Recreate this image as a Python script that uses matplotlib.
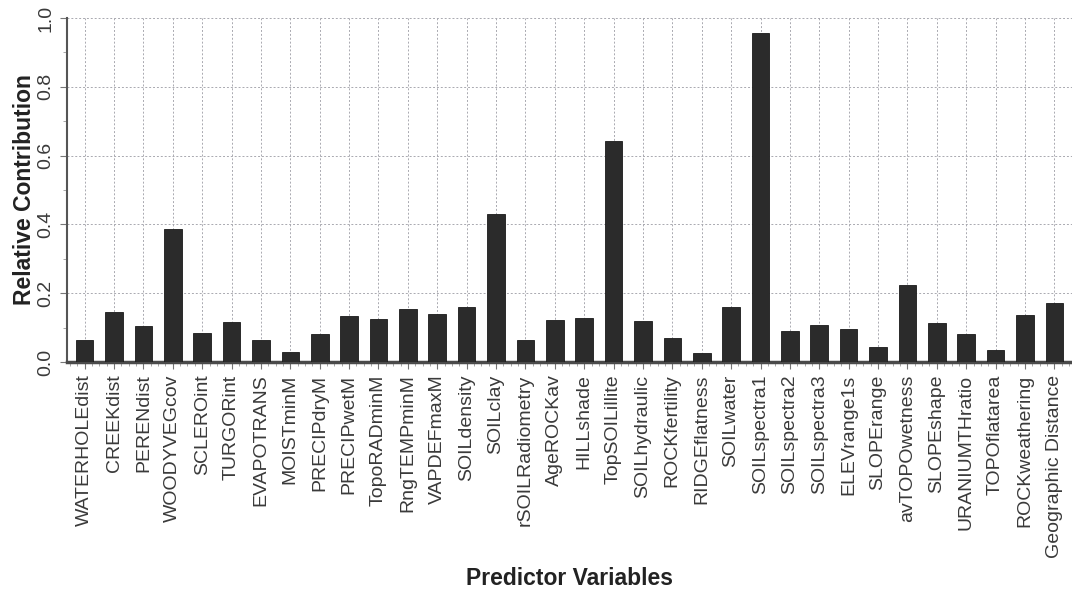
import matplotlib
matplotlib.use("Agg")
import matplotlib.pyplot as plt
import numpy as np
from matplotlib.ticker import MultipleLocator

# predictor names and their relative contribution
predictors = ["WATERHOLEdist", "CREEKdist", "PERENdist", "WOODYVEGcov", "SCLEROint",
              "TURGORint", "EVAPOTRANS", "MOISTminM", "PRECIPdryM", "PRECIPwetM",
              "TopoRADminM", "RngTEMPminM", "VAPDEFmaxM", "SOILdensity", "SOILclay",
              "rSOILRadiometry", "AgeROCKav", "HILLshade", "TopSOILillite", "SOILhydraulic",
              "ROCKfertility", "RIDGEflatness", "SOILwater", "SOILspectra1", "SOILspectra2",
              "SOILspectra3", "ELEVrange1s", "SLOPErange", "avTOPOwetness", "SLOPEshape",
              "URANIUMTHratio", "TOPOflatarea", "ROCKweathering", "Geographic Distance"]
contribution = [0.065, 0.144, 0.104, 0.386, 0.083,
                0.115, 0.065, 0.030, 0.080, 0.133,
                0.125, 0.153, 0.140, 0.160, 0.431,
                0.065, 0.121, 0.129, 0.643, 0.118,
                0.069, 0.027, 0.160, 0.957, 0.089,
                0.108, 0.097, 0.044, 0.224, 0.112,
                0.080, 0.034, 0.136, 0.171]
y_ticks = [0.0, 0.2, 0.4, 0.6, 0.8, 1.0]

plt.rcParams['font.family'] = ['Liberation Sans', 'DejaVu Sans']

fig = plt.figure(figsize=(10.72, 5.92), dpi=100)
ax = fig.add_axes([67 / 1072, 0.3885, 1 - 67 / 1072, 0.5811])

x = np.arange(len(predictors))
ax.bar(x, contribution, width=0.6, color="#2b2b2b", edgecolor="#1a1a1a",
       linewidth=0.6, zorder=3)

ax.set_xlim(-0.6, len(predictors) - 0.4)
ax.set_ylim(0, 1.0)

ax.set_xticks(x)
ax.set_xticklabels(predictors, rotation=90, fontsize=14, color="#3a3a3a")
ax.set_yticks(y_ticks)
ax.set_yticklabels(["%.1f" % v for v in y_ticks], rotation=90, va="center",
                   fontsize=14, color="#3a3a3a")
ax.yaxis.set_minor_locator(MultipleLocator(0.1))
ax.xaxis.set_minor_locator(MultipleLocator(0.25))

ax.tick_params(axis="both", which="major", length=5, width=0.8, color="#777777", pad=4)
ax.tick_params(axis="both", which="minor", length=3, width=0.6, color="#999999")

ax.grid(False, which="minor")
ax.grid(True, which="major", linestyle=(0, (2, 2)), linewidth=0.7, color="#a9a9b0", zorder=0)

for side in ["top", "right"]:
    ax.spines[side].set_visible(False)
ax.spines["left"].set_color("#555555")
ax.spines["left"].set_linewidth(1.5)
ax.spines["bottom"].set_color("#4a4a4a")
ax.spines["bottom"].set_linewidth(2.5)

ax.set_ylabel("Relative Contribution", fontsize=16.5, fontweight="bold", color="#222222", labelpad=1)
ax.set_xlabel("Predictor Variables", fontsize=16.5, fontweight="bold", color="#222222", labelpad=7)

fig.savefig("out.png", dpi=100)
